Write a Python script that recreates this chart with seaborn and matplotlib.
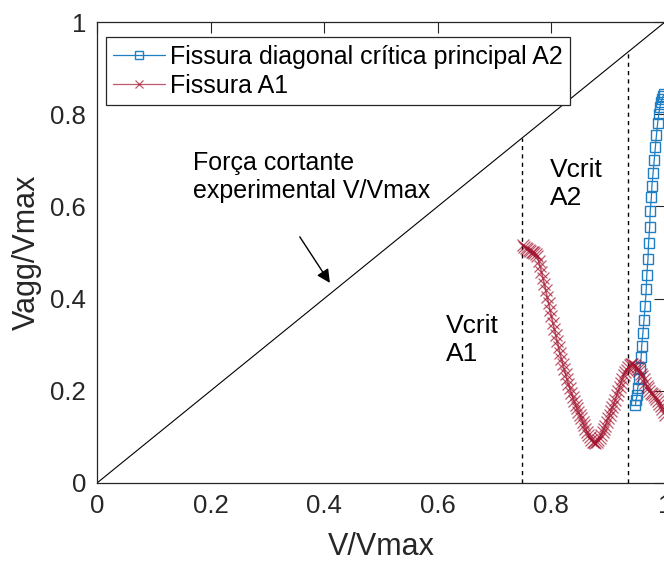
import matplotlib
matplotlib.use("Agg")
import matplotlib.pyplot as plt
import seaborn as sns
import pandas as pd

# Crack A1: normalised aggregate-interlock shear vs applied shear
a1_v = [0.7500, 0.7525, 0.7550, 0.7575, 0.7600, 0.7625, 0.7650, 0.7675, 0.7700, 0.7725,
        0.7750, 0.7775, 0.7800, 0.7825, 0.7850, 0.7875, 0.7900, 0.7925, 0.7950, 0.7975,
        0.8000, 0.8025, 0.8050, 0.8075, 0.8100, 0.8125, 0.8150, 0.8175, 0.8200, 0.8225,
        0.8250, 0.8275, 0.8300, 0.8325, 0.8350, 0.8375, 0.8400, 0.8425, 0.8450, 0.8475,
        0.8500, 0.8525, 0.8550, 0.8575, 0.8600, 0.8625, 0.8650, 0.8675, 0.8700, 0.8725,
        0.8750, 0.8775, 0.8800, 0.8825, 0.8850, 0.8875, 0.8900, 0.8925, 0.8950, 0.8975,
        0.9000, 0.9025, 0.9050, 0.9075, 0.9100, 0.9125, 0.9150, 0.9175, 0.9200, 0.9225,
        0.9250, 0.9275, 0.9300, 0.9325, 0.9350, 0.9375, 0.9400, 0.9425, 0.9450, 0.9475,
        0.9500, 0.9525, 0.9550, 0.9575, 0.9600, 0.9625, 0.9650, 0.9675, 0.9700, 0.9725,
        0.9750, 0.9775, 0.9800, 0.9825, 0.9850, 0.9875, 0.9900, 0.9925, 0.9950, 0.9975,
        1.0000]
a1_vagg = [0.516, 0.513, 0.510, 0.507, 0.505, 0.503, 0.502, 0.501, 0.500, 0.497,
           0.492, 0.482, 0.470, 0.458, 0.445, 0.432, 0.418, 0.404, 0.390, 0.376,
           0.362, 0.348, 0.335, 0.321, 0.308, 0.295, 0.282, 0.270, 0.258, 0.247,
           0.236, 0.225, 0.215, 0.205, 0.196, 0.187, 0.178, 0.170, 0.162, 0.155,
           0.148, 0.140, 0.132, 0.125, 0.118, 0.111, 0.105, 0.099, 0.094, 0.090,
           0.088, 0.087, 0.090, 0.093, 0.098, 0.104, 0.110, 0.117, 0.124, 0.132,
           0.140, 0.148, 0.156, 0.164, 0.172, 0.181, 0.190, 0.199, 0.208, 0.217,
           0.226, 0.234, 0.240, 0.246, 0.251, 0.255, 0.258, 0.259, 0.257, 0.254,
           0.251, 0.247, 0.242, 0.237, 0.232, 0.225, 0.218, 0.211, 0.205, 0.200,
           0.196, 0.193, 0.190, 0.186, 0.182, 0.177, 0.172, 0.166, 0.160, 0.154,
           0.148]

# Principal critical diagonal crack A2
a2_v = [0.948, 0.949, 0.951, 0.952, 0.954, 0.956, 0.958, 0.959, 0.961, 0.963,
        0.965, 0.967, 0.968, 0.970, 0.971, 0.973, 0.974, 0.976, 0.977, 0.979,
        0.981, 0.983, 0.985, 0.987, 0.989, 0.991, 0.993, 0.995, 0.997, 0.999]
a2_vagg = [0.170, 0.180, 0.190, 0.205, 0.225, 0.250, 0.273, 0.298, 0.325, 0.353,
           0.385, 0.420, 0.452, 0.485, 0.520, 0.555, 0.590, 0.620, 0.645, 0.672,
           0.700, 0.728, 0.755, 0.780, 0.800, 0.815, 0.826, 0.834, 0.840, 0.843]

# Experimental shear force line V/Vmax and critical shear levels
diag_v = [0.0, 1.0]
vcrit_a1 = 0.749
vcrit_a2 = 0.935

tick_vals = [0, 0.2, 0.4, 0.6, 0.8, 1]
tick_labels = ["0", "0.2", "0.4", "0.6", "0.8", "1"]

label_a2 = "Fissura diagonal crítica principal A2"
label_a1 = "Fissura A1"

sns.set_theme(style="white")
plt.rcParams["font.family"] = ["Liberation Sans", "DejaVu Sans"]

INK = "#262626"
BLUE = "#1f7fc5"
RED = "#A2142F"

fig = plt.figure(figsize=(6.64, 5.62), dpi=100)
ax = fig.add_axes([97 / 664, 79 / 562, 568 / 664, 461 / 562])

df_a2 = pd.DataFrame({"v": a2_v, "vagg": a2_vagg})
df_a1 = pd.DataFrame({"v": a1_v, "vagg": a1_vagg})

sns.lineplot(data=df_a2, x="v", y="vagg", sort=False, estimator=None, ax=ax,
             color=BLUE, lw=0.9, marker="s", markersize=7.5,
             markerfacecolor="none", markeredgecolor=BLUE, markeredgewidth=1.0,
             label=label_a2)
sns.lineplot(data=df_a1, x="v", y="vagg", sort=False, estimator=None, ax=ax,
             color=RED, lw=1.2, marker="x", markersize=8.5,
             markeredgecolor=RED, markeredgewidth=0.9, alpha=0.7,
             label=label_a1)

ax.plot(diag_v, diag_v, color="black", lw=0.8, zorder=1)
for vc in (vcrit_a1, vcrit_a2):
    ax.plot([vc, vc], [0, vc], color="black", lw=1.0, ls=(0, (3, 3)), zorder=1)

ax.set_xlim(0, 1)
ax.set_ylim(0, 1)
ax.set_xticks(tick_vals)
ax.set_xticklabels(tick_labels)
ax.set_yticks(tick_vals)
ax.set_yticklabels(tick_labels)
ax.tick_params(direction="in", length=8, width=0.8, colors=INK,
               labelsize=18.5, top=True, right=True, pad=8)
for s in ax.spines.values():
    s.set_color(INK)
    s.set_linewidth(0.9)

ax.set_xlabel("V/Vmax", fontsize=22, color=INK, labelpad=10)
ax.set_ylabel("Vagg/Vmax", fontsize=22, color=INK, labelpad=6)

ax.text(0.169, 0.664, "Força cortante\nexperimental V/Vmax", fontsize=18,
        color="black", ha="left", va="center", linespacing=1.2)
ax.text(0.614, 0.310, "Vcrit\nA1", fontsize=19, color="black",
        ha="left", va="center", linespacing=1.2)
ax.text(0.797, 0.649, "Vcrit\nA2", fontsize=19, color="black",
        ha="left", va="center", linespacing=1.2)
ax.annotate("", xy=(0.410, 0.434), xytext=(0.357, 0.534),
            arrowprops=dict(arrowstyle="-|>", color="black", lw=1.0,
                            mutation_scale=20, shrinkA=0, shrinkB=0))

leg = ax.legend(loc="upper left", bbox_to_anchor=(0.0158, 0.967),
                borderaxespad=0, fontsize=18, frameon=True, fancybox=False,
                framealpha=1, edgecolor=INK, handlelength=2.05,
                handletextpad=0.2, borderpad=0.3, labelspacing=0.2)
leg.get_frame().set_linewidth(0.9)
for h in leg.legend_handles:
    h.set_markersize(5.5)
    h.set_linewidth(0.9)
for t in leg.get_texts():
    t.set_color("black")

fig.savefig("out.png", dpi=100)
